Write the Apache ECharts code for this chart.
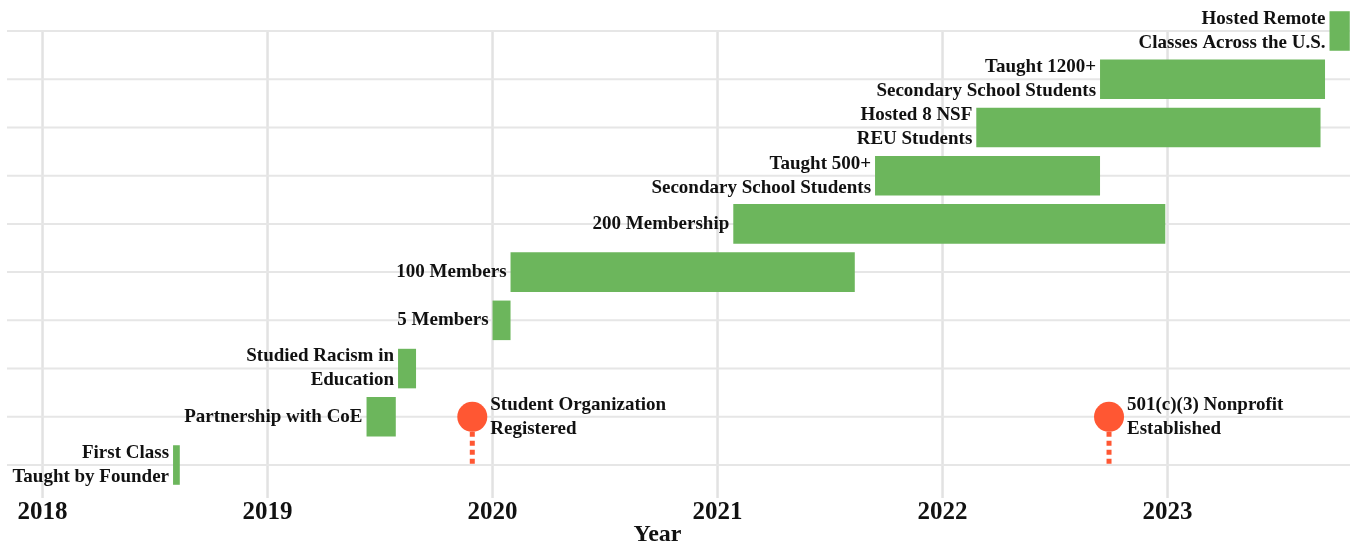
<!DOCTYPE html>
<html><head><meta charset="utf-8">
<script src="https://cdn.jsdelivr.net/npm/echarts@6/dist/echarts.min.js"></script>
<style>html,body{margin:0;padding:0;background:#fff}#c{width:1353px;height:546px}</style>
</head><body><div id="c"></div>
<script>
// ---- data ----
const labels = [
  'First Class\nTaught by Founder',
  'Partnership with CoE',
  'Studied Racism in\nEducation',
  '5 Members',
  '100 Members',
  '200 Membership',
  'Taught 500+\nSecondary School Students',
  'Hosted 8 NSF\nREU Students',
  'Taught 1200+\nSecondary School Students',
  'Hosted Remote\nClasses Across the U.S.'
];
const rows   = [0, 1, 2, 3, 4, 5, 6, 7, 8, 9];
const starts = [2018.58, 2019.44, 2019.58, 2020.00, 2020.08, 2021.07, 2021.70, 2022.15, 2022.70, 2023.72];
const ends   = [2018.61, 2019.57, 2019.66, 2020.08, 2021.61, 2022.99, 2022.70, 2023.68, 2023.70, 2023.81];

const milestoneLabels = ['Student Organization\nRegistered', '501(c)(3) Nonprofit\nEstablished'];
const milestoneDates  = [2019.91, 2022.74];
const milestoneRows   = [1, 1];
const milestoneBase   = [0, 0];

const yearTicks = [2018, 2019, 2020, 2021, 2022, 2023];
const gridRows  = [0, 1, 2, 3, 4, 5, 6, 7, 8, 9];

// ---- chart ----
const FONT = '"Liberation Serif", "Times New Roman", serif';
const GREEN = '#6cb65c';
const RED = '#ff5733';
const chart = echarts.init(document.getElementById('c'), null, {renderer: 'canvas'});

const barData = rows.map((r, i) => [starts[i], ends[i], r]);
const msData = milestoneDates.map((d, i) => [d, milestoneRows[i]]);
const stemData = milestoneDates.map((d, i) => [d, milestoneRows[i], milestoneBase[i]]);
const vGridData = yearTicks.map(v => [v]);
const hGridData = gridRows.map(v => [v]);

chart.setOption({
  animation: false,
  backgroundColor: '#fff',
  grid: {left: 7, right: 3, top: 31, bottom: 48, containLabel: false, outerBoundsMode: 'none'},
  xAxis: {
    type: 'value', min: 2017.842, max: 2023.811,
    axisLine: {show: false}, axisTick: {show: false}, splitLine: {show: false},
    axisLabel: {customValues: yearTicks, formatter: v => String(v), margin: 2,
      fontFamily: FONT, fontWeight: 'bold', fontSize: 25, color: '#111'},
    name: 'Year', nameLocation: 'middle', nameGap: 25, nameMoveOverlap: false,
    nameTextStyle: {fontFamily: FONT, fontWeight: 'bold', fontSize: 24, color: '#111', padding: [0, 42, 0, 0]}
  },
  yAxis: {
    type: 'value', min: -0.684, max: 9,
    axisLine: {show: false}, axisTick: {show: false}, axisLabel: {show: false}, splitLine: {show: false}
  },
  series: [
    {
      type: 'custom', z: 1, silent: true, clip: false,
      data: vGridData,
      renderItem(params, api) {
        const cs = params.coordSys;
        const p = api.coord([api.value(0), 0]);
        return {type: 'line', shape: {x1: p[0], y1: cs.y, x2: p[0], y2: cs.y + cs.height},
          style: {stroke: '#e2e2e2', lineWidth: 2.5}};
      }
    },
    {
      type: 'custom', z: 1, silent: true, clip: false,
      data: hGridData,
      renderItem(params, api) {
        const cs = params.coordSys;
        const p = api.coord([2018, api.value(0)]);
        return {type: 'line', shape: {x1: cs.x, y1: p[1], x2: cs.x + cs.width, y2: p[1]},
          style: {stroke: '#e6e6e6', lineWidth: 2}};
      }
    },
    {
      type: 'custom', z: 3, clip: false,
      data: barData,
      renderItem(params, api) {
        const s = api.coord([api.value(0), api.value(2)]);
        const e = api.coord([api.value(1), api.value(2)]);
        const h = api.size([0, 1])[1] * 0.82;
        return {type: 'group', children: [
          {type: 'rect', shape: {x: s[0], y: s[1] - h / 2, width: e[0] - s[0], height: h}, style: {fill: GREEN}},
          {type: 'text', style: {x: s[0] - 4, y: s[1], text: labels[params.dataIndex], align: 'right', verticalAlign: 'middle',
            fontFamily: FONT, fontWeight: 'bold', fontSize: 19, lineHeight: 24, fill: '#111'}}
        ]};
      }
    },
    {
      type: 'custom', z: 3, clip: false,
      data: stemData,
      renderItem(params, api) {
        const top = api.coord([api.value(0), api.value(1)]);
        const bot = api.coord([api.value(0), api.value(2)]);
        return {type: 'line', shape: {x1: top[0], y1: top[1] + 15, x2: bot[0], y2: bot[1]},
          style: {stroke: RED, lineWidth: 5, lineDash: [5, 4]}};
      }
    },
    {
      type: 'scatter', z: 4, symbol: 'circle', symbolSize: 30,
      itemStyle: {color: RED, opacity: 1},
      data: msData,
      label: {show: true, position: 'right', distance: 3, formatter: p => milestoneLabels[p.dataIndex],
        fontFamily: FONT, fontWeight: 'bold', fontSize: 19, lineHeight: 24, color: '#111', align: 'left'}
    }
  ]
});
</script>
</body></html>
